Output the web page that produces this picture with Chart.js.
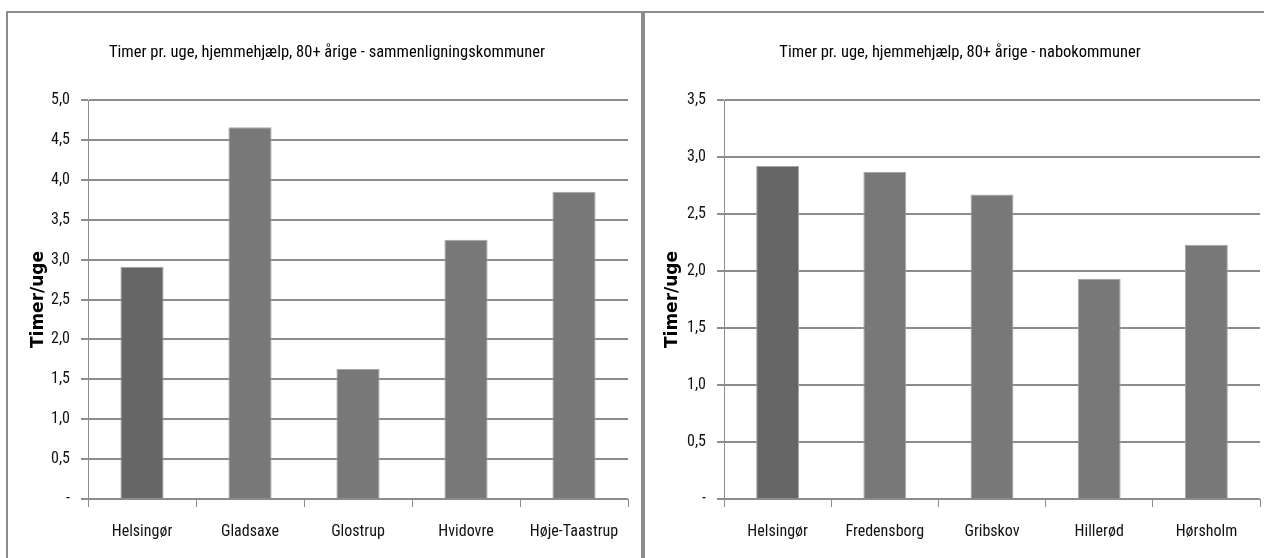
<!DOCTYPE html>
<html>
<head>
<meta charset="utf-8">
<script src="https://cdn.jsdelivr.net/npm/chart.js@4.4.1/dist/chart.umd.min.js"></script>
<style>
  html, body { margin:0; padding:0; background:#fff; width:1264px; height:558px; overflow:hidden; }
  .panel { position:absolute; top:11px; height:600px; border:2px solid #8c8c8c; border-bottom:none; box-sizing:border-box; }
  #p1 { left:6px; width:637px; }
  #p2 { left:643px; width:640px; border-right:none; }
  canvas { position:absolute; top:0; }
  #c1 { left:0; }
  #c2 { left:644px; }
</style>
</head>
<body>
<div class="panel" id="p1"></div>
<div class="panel" id="p2"></div>
<canvas id="c1" width="642" height="558"></canvas>
<canvas id="c2" width="620" height="558"></canvas>
<script>
// ---- data ----
const leftTitle = 'Timer pr. uge, hjemmehjælp, 80+ årige - sammenligningskommuner';
const leftCategories = ['Helsingør', 'Gladsaxe', 'Glostrup', 'Hvidovre', 'Høje-Taastrup'];
const leftValues = [2.91, 4.66, 1.63, 3.25, 3.85];
const leftMax = 5.0;

const rightTitle = 'Timer pr. uge, hjemmehjælp, 80+ årige - nabokommuner';
const rightCategories = ['Helsingør', 'Fredensborg', 'Gribskov', 'Hillerød', 'Hørsholm'];
const rightValues = [2.92, 2.87, 2.67, 1.93, 2.23];
const rightMax = 3.5;

const yAxisTitle = 'Timer/uge';
const tickStep = 0.5;

// ---- styling ----
const FONT = "'Roboto Condensed', 'Liberation Sans', sans-serif";
const GRID = '#8c8c8c';

function makeChart(id, title, cats, vals, max, pad, yWidth) {
  const colors = cats.map((c, i) => i === 0 ? '#666666' : '#787878');
  return new Chart(document.getElementById(id), {
    type: 'bar',
    data: {
      labels: cats,
      datasets: [{
        data: vals,
        backgroundColor: colors,
        borderColor: '#a6a6a6',
        borderWidth: 1,
        barPercentage: 0.4,
        categoryPercentage: 1.0
      }]
    },
    options: {
      responsive: false,
      animation: false,
      devicePixelRatio: 1,
      layout: { padding: pad },
      plugins: {
        legend: { display: false },
        tooltip: { enabled: false },
        title: {
          display: true,
          text: title,
          color: '#000',
          font: { family: FONT, size: 16.5, weight: 'normal', lineHeight: 1.2 },
          padding: { top: 43, bottom: 37.2 }
        }
      },
      scales: {
        x: {
          offset: true,
          grid: { display: true, offset: true, drawOnChartArea: false, drawTicks: true, tickLength: 8, color: GRID, lineWidth: 1 },
          border: { display: false },
          ticks: { color: '#111', font: { family: FONT, size: 16 }, padding: 15, maxRotation: 0, autoSkip: false },
          afterFit: s => { s.height = 59; }
        },
        y: {
          min: 0,
          max: max,
          grid: { color: GRID, lineWidth: 2, drawTicks: true, tickLength: 7 },
          border: { display: true, color: GRID, width: 1 },
          ticks: {
            stepSize: tickStep,
            color: '#111',
            font: { family: FONT, size: 16 },
            padding: 11,
            callback: v => v === 0 ? '-' : v.toFixed(1).replace('.', ',')
          },
          title: {
            display: true,
            text: yAxisTitle,
            color: '#000',
            font: { family: "'DejaVu Sans', Verdana, sans-serif", size: 17, weight: 'bold' },
            padding: { top: 2, bottom: 0 }
          },
          afterFit: s => { s.width = yWidth; }
        }
      }
    }
  });
}

makeChart('c1', leftTitle, leftCategories, leftValues, leftMax, { left: 26, right: 14, top: 0, bottom: 0 }, 62);
makeChart('c2', rightTitle, rightCategories, rightValues, rightMax, { left: 16, right: 4, top: 0, bottom: 0 }, 64);
</script>
</body>
</html>
